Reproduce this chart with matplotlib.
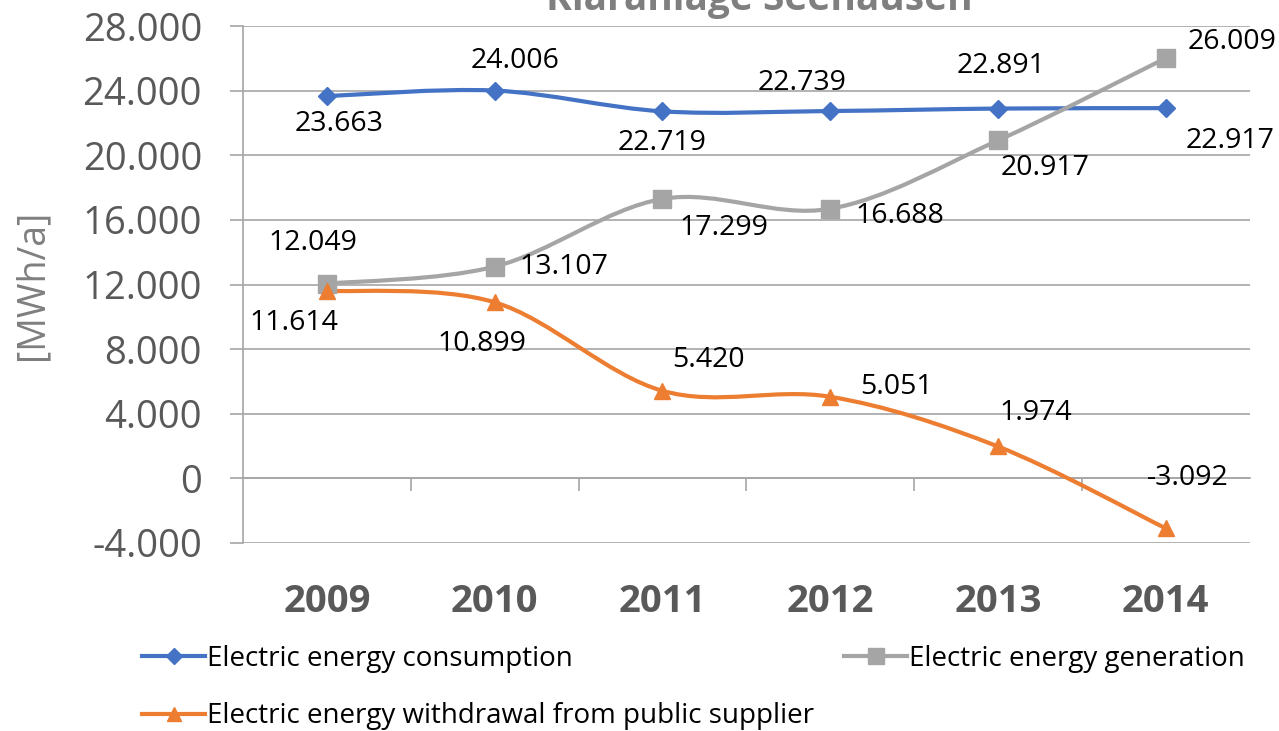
import matplotlib.pyplot as plt
from matplotlib.path import Path
from matplotlib.patches import PathPatch
from matplotlib.ticker import FuncFormatter, FixedLocator
import numpy as np

plt.rcParams['font.family'] = ['Open Sans', 'DejaVu Sans']

# Daten
jahre = ['2009', '2010', '2011', '2012', '2013', '2014']
verbrauch = [23663, 24006, 22719, 22739, 22891, 22917]
erzeugung = [12049, 13107, 17299, 16688, 20917, 26009]
bezug = [11614, 10899, 5420, 5051, 1974, -3092]

namen = ['Electric energy consumption',
         'Electric energy generation',
         'Electric energy withdrawal from public supplier']
farben = ['#4472C4', '#A5A5A5', '#ED7D31']
marker = ['D', 's', '^']
msize = [9, 13, 12]

# Label-Versatz (Punkte) je Serie und Jahr
off_verbrauch = [(9, -20), (15, 21), (0, -23), (-20, 20), (2, 31), (46, -24)]
off_erzeugung = [(-10, 29), (50, 0), (44, -21), (50, -5), (34, -20), (48, 12)]
off_bezug = [(-24, -23), (-9, -30), (33, 22), (48, 7), (27, 24), (16, 36)]


def de_fmt(v):
    return '{:,.0f}'.format(v).replace(',', '.')


def glatt(x, y):
    # Excel-artige geglaettete Linie (Bezier durch die Punkte)
    p = np.column_stack([x, y]).astype(float)
    n = len(p)
    verts = [p[0]]
    codes = [Path.MOVETO]
    for i in range(n - 1):
        p0 = p[i - 1] if i > 0 else p[i]
        p3 = p[i + 2] if i + 2 < n else p[i + 1]
        c1 = p[i] + (p[i + 1] - p0) / 6
        c2 = p[i + 1] - (p3 - p[i]) / 6
        verts += [c1, c2, p[i + 1]]
        codes += [Path.CURVE4] * 3
    return Path(verts, codes)


fig = plt.figure(figsize=(12.79, 7.31), dpi=100)
ax = fig.add_axes([0.19, 0.2572, 0.787, 0.7072])

x = np.arange(len(jahre))
serien = [verbrauch, erzeugung, bezug]
offsets = [off_verbrauch, off_erzeugung, off_bezug]
handles = []
for werte, farbe, m, ms, name, offs in zip(serien, farben, marker, msize, namen, offsets):
    ax.add_patch(PathPatch(glatt(x, werte), fill=False, edgecolor=farbe, lw=3, zorder=3))
    ax.plot(x, werte, color=farbe, marker=m, markersize=ms, linestyle='none', zorder=4)
    handles.append(plt.Line2D([], [], color=farbe, lw=3, marker=m, markersize=ms * 0.85))
    for xi, v, o in zip(x, werte, offs):
        ax.annotate(de_fmt(v), (xi, v), xytext=o, textcoords='offset points',
                    ha='center', va='center', fontsize=20.5, color='black', zorder=5)

ax.set_xlim(-0.5, len(jahre) - 0.5)
ax.set_ylim(-4000, 28000)
ax.set_yticks(np.arange(-4000, 28001, 4000))
ax.yaxis.set_major_formatter(FuncFormatter(lambda v, p: de_fmt(v)))
ax.tick_params(axis='y', labelsize=27.5, labelcolor='#595959', color='#A6A6A6',
               length=9.5, width=1.2, pad=20)
ax.yaxis.grid(True, color='#A6A6A6', lw=1.2)
ax.set_axisbelow(True)

ax.spines['top'].set_visible(False)
ax.spines['right'].set_visible(False)
ax.spines['left'].set_color('#A6A6A6')
ax.spines['left'].set_linewidth(1.2)
ax.spines['bottom'].set_position(('data', 0))
ax.spines['bottom'].set_color('#A6A6A6')
ax.spines['bottom'].set_linewidth(1.2)

ax.set_xticks(x)
ax.set_xticklabels(jahre, fontsize=27.5, fontweight='bold', color='#595959')
ax.xaxis.set_minor_locator(FixedLocator(np.arange(0.5, len(jahre) - 0.5, 1)))
ax.tick_params(axis='x', which='major', length=0, pad=75)
ax.tick_params(axis='x', which='minor', length=9, width=1.2, color='#A6A6A6', direction='out')

ax.set_ylabel('[MWh/a]', fontsize=27, color='#7F7F7F')
ax.yaxis.set_label_coords(-0.19, 0.5)

fig.text(0.594, 1 - 10 / 731, 'Kläranlage Seehausen', ha='center', va='baseline',
         fontsize=28, fontweight='bold', color='#7F7F7F')

# Reihenfolge so, dass Zeile 1: Verbrauch | Erzeugung, Zeile 2: Bezug
leg_h = [handles[0], handles[2], handles[1]]
leg_n = [namen[0], namen[2], namen[1]]
fig.legend(leg_h, leg_n, loc='upper left', bbox_to_anchor=(0.1025, 0.133),
           bbox_transform=fig.transFigure, ncol=2, frameon=False, fontsize=20,
           handlelength=2.27, handletextpad=0.05, columnspacing=1.1,
           labelspacing=1.06, borderaxespad=0)

fig.savefig('out.png', dpi=100)
